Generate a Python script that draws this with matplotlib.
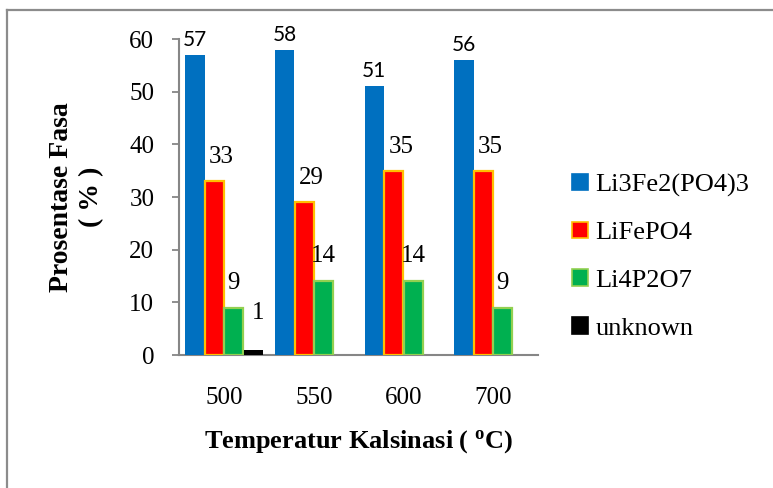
import matplotlib
matplotlib.use("Agg")
import matplotlib.pyplot as plt
from matplotlib.patches import Patch
from matplotlib.lines import Line2D
import numpy as np

temps = ["500", "550", "600", "700"]
li3fe2 = [57, 58, 51, 56]
lifepo4 = [33, 29, 35, 35]
li4p2o7 = [9, 14, 14, 9]
unknown = [1, 0, 0, 0]

names = ["Li3Fe2(PO4)3", "LiFePO4", "Li4P2O7", "unknown"]
faces = ["#0070C0", "#FF0000", "#00B050", "#000000"]
edges = ["#0070C0", "#FFC000", "#92D050", "#000000"]
# label offsets (px) and fonts per series, as Excel placed them
offs = [(0, 15), (7, 24), (0, 25), (5, 37)]
lab_fonts = ["Lato", "Liberation Serif", "Liberation Serif", "Liberation Serif"]
lab_sizes = [15, 18, 18, 18]

plt.rcParams['font.family'] = 'Liberation Serif'
plt.rcParams['mathtext.fontset'] = 'custom'
plt.rcParams['mathtext.rm'] = 'Liberation Serif'
plt.rcParams['mathtext.bf'] = 'Liberation Serif:bold'

fig = plt.figure(figsize=(7.73, 4.88), dpi=100)
ax = fig.add_axes([0.232, 0.2725, 0.464, 0.6475])

x = np.arange(len(temps))
w = 0.217
series = [li3fe2, lifepo4, li4p2o7, unknown]
for i, vals in enumerate(series):
    pos = x + (i - 1.5) * w
    lw = 0 if i in (0, 3) else 1.6
    bars = ax.bar(pos, vals, w * 0.97 if lw else w, color=faces[i], edgecolor=edges[i],
                  linewidth=lw, zorder=3)
    for b, v in zip(bars, vals):
        if v == 0:
            continue
        ax.annotate(str(v), (b.get_x() + b.get_width() / 2, v),
                    xytext=offs[i], textcoords="offset pixels",
                    ha="center", va="center", fontsize=lab_sizes[i],
                    family=lab_fonts[i], color="black")

ax.set_xlim(-0.5, 3.5)
ax.set_ylim(0, 60)
ax.set_yticks(range(0, 61, 10))
ax.set_xticks(x)
ax.set_xticklabels(temps)
ax.tick_params(axis="x", length=0, pad=23, labelsize=18)
ax.tick_params(axis="y", length=5, width=1.3, color="#868686", pad=13, labelsize=18)
for s in ["top", "right"]:
    ax.spines[s].set_visible(False)
for s in ["left", "bottom"]:
    ax.spines[s].set_color("#868686")
    ax.spines[s].set_linewidth(1.5)

fig.text(0.099, 0.596, "Prosentase Fasa\n( % )", rotation=90, ha="center", va="center",
         fontsize=20, fontweight="bold", multialignment="center", linespacing=1.25)
fig.text(0.4635, 0.096, r"Temperatur Kalsinasi ( $\mathbf{^{o}}$C)", ha="center", va="center",
         fontsize=19, fontweight="bold")

handles = [Patch(facecolor=faces[i], edgecolor=edges[i], linewidth=1.2) for i in range(4)]
fig.legend(handles, names, loc="center left", bbox_to_anchor=(0.726, 0.474), frameon=False,
           fontsize=19, handlelength=0.6, handleheight=0.6, handletextpad=0.3,
           labelspacing=0.95, borderaxespad=0)

# outer gray border (top and left visible in the crop)
fig.add_artist(Line2D([0.0097, 1.0], [0.9785, 0.9785], color="#8c8c8c", lw=1.6))
fig.add_artist(Line2D([0.0097, 0.0097], [0.0, 0.9785], color="#8c8c8c", lw=1.6))

fig.savefig("out.png", dpi=100)
